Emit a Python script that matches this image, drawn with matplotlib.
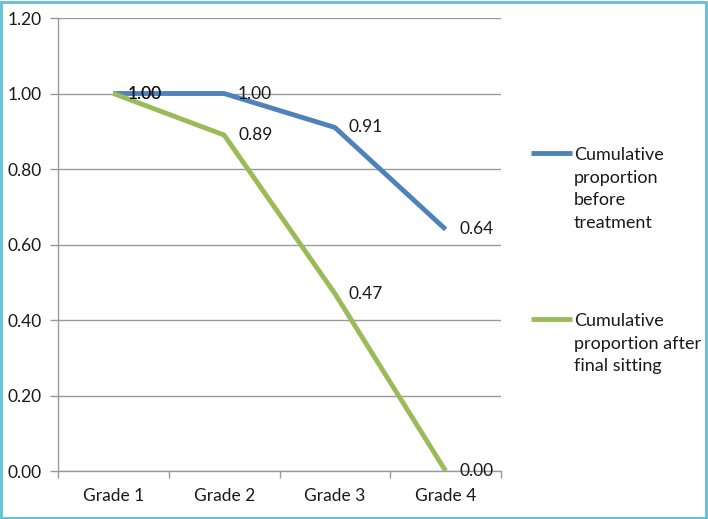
import matplotlib
matplotlib.use("Agg")
import matplotlib.pyplot as plt
from matplotlib.lines import Line2D
from matplotlib.patches import Rectangle

categories = ["Grade 1", "Grade 2", "Grade 3", "Grade 4"]
before = [1.00, 1.00, 0.91, 0.64]
after = [1.00, 0.89, 0.47, 0.00]
series_names = ["Cumulative\nproportion\nbefore\ntreatment",
                "Cumulative\nproportion after\nfinal sitting"]
yticks = [0.0, 0.2, 0.4, 0.6, 0.8, 1.0, 1.2]

plt.rcParams['font.family'] = ['Lato', 'DejaVu Sans']
blue = "#4f81bd"
green = "#9bbb59"
grid = "#9a9a9a"
txt = "#1a1a1a"
fs = 12.5

fig = plt.figure(figsize=(7.08, 5.19), dpi=100)
W, H = 708, 519
ax = fig.add_axes([58 / W, 1 - 471 / H, (501 - 58) / W, (471 - 18) / H])

x = list(range(len(categories)))
ax.plot(x, before, color=blue, lw=3.5, solid_capstyle='butt', zorder=3)
ax.plot(x, after, color=green, lw=3.5, solid_capstyle='butt', zorder=3)

for xi, v in zip(x, before):
    ax.annotate(f"{v:.2f}", (xi, v), xytext=(10, 0), textcoords='offset points',
                va='center', ha='left', fontsize=fs, color=txt, zorder=4)
for xi, v in zip(x, after):
    ax.annotate(f"{v:.2f}", (xi, v), xytext=(10, 0), textcoords='offset points',
                va='center', ha='left', fontsize=fs, color=txt, zorder=4)

ax.set_xlim(-0.5, len(categories) - 0.5)
ax.set_ylim(0, 1.2)
ax.set_yticks(yticks)
ax.set_yticklabels([f"{t:.2f}" for t in yticks])
ax.set_xticks(x)
ax.set_xticklabels(categories)
ax.set_xticks([i - 0.5 for i in range(len(categories) + 1)], minor=True)
ax.tick_params(axis='x', which='major', length=0, pad=12, labelsize=fs, colors=txt)
ax.tick_params(axis='x', which='minor', length=5, direction='out', color=grid, width=1)
ax.tick_params(axis='y', length=6, direction='out', color=grid, width=1, pad=6,
               labelsize=fs, colors=txt)
ax.yaxis.grid(True, color=grid, lw=1)
ax.set_axisbelow(True)
for s in ['top', 'right']:
    ax.spines[s].set_visible(False)
for s in ['left', 'bottom']:
    ax.spines[s].set_color(grid)
    ax.spines[s].set_linewidth(1)

# legend
def fy(py):
    return 1 - py / H
def fx(px):
    return px / W

leg_y = [153, 319]
for col, name, yy in zip([blue, green], series_names, leg_y):
    fig.add_artist(Line2D([fx(531), fx(572)], [fy(yy), fy(yy)], color=col, lw=3.5,
                          solid_capstyle='butt', transform=fig.transFigure))
    fig.text(fx(574), fy(yy - 6), name, ha='left', va='top', fontsize=13,
             color=txt, linespacing=1.5)

# border
fig.add_artist(Rectangle((1 / W, 1 / H), 1 - 3 / W, 1 - 3 / H, transform=fig.transFigure,
                         fill=False, edgecolor="#5fbfd6", lw=2))

fig.savefig("out.png", dpi=100)
